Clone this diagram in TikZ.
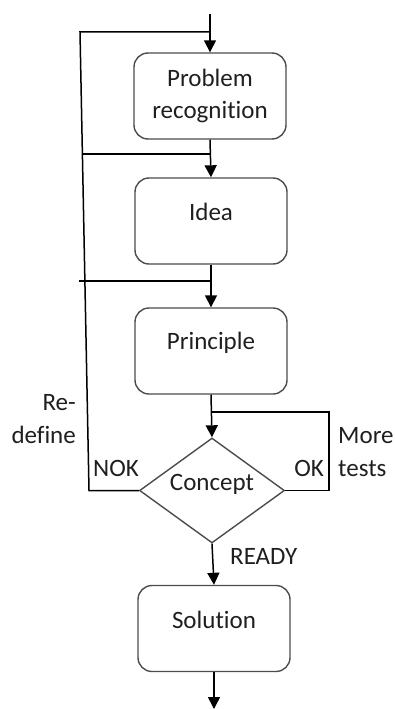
\documentclass[tikz,border=0pt]{standalone}
\usepackage{fontspec}
\setmainfont{Carlito}[Ligatures=NoCommon]
\usetikzlibrary{shapes.geometric,arrows.meta}
\begin{document}
\begin{tikzpicture}[x=1pt,y=-1pt,
  txt/.style={font=\fontsize{25}{32.5}\selectfont, text=black!88, inner sep=0pt},
  box/.style={txt, draw=black!70, line width=1.4pt, rounded corners=14pt,
    minimum width=152pt, minimum height=86pt, align=center},
  dec/.style={txt, draw=black!70, line width=1.4pt, diamond,
    minimum width=145pt, minimum height=105pt},
  ln/.style={line width=1.5pt, black},
  arr/.style={ln, -{Triangle[length=12pt,width=12pt]}}]
\useasboundingbox (0,0) rectangle (395,709);
% nodes
\node[box] (p) at (210,96) {Problem\\recognition};
\node[box] (i) at (211,221) {\raisebox{1pt}[0pt][0pt]{Idea}};
\node[box] (pr) at (211,351) {\raisebox{2pt}[0pt][0pt]{Principle}};
\node[dec] (c) at (212,490.5) {\raisebox{0.5pt}[0pt][0pt]{Concept}};
\node[box] (s) at (214,628.5) {\raisebox{0.5pt}[0pt][0pt]{Solution}};
% coordinates
\coordinate (top) at (210,14);
\coordinate (bot) at (214,709);
\coordinate (j1) at (210,32);
\coordinate (j2) at (210,154);
\coordinate (j3) at (211,281);
\coordinate (j4) at (211.5,412);
\coordinate (l0) at (80,32);
\coordinate (l1) at (89,490.5);
\coordinate (l2) at (82.4,154);
\coordinate (l3) at (79,281);
\coordinate (r1) at (329,490.5);
\coordinate (r0) at (329,412);
% main flow
\draw[arr] (top) -- (p.north);
\draw[arr] (p.south) -- (i.north);
\draw[arr] (i.south) -- (pr.north);
\draw[arr] (pr.south) -- (c.north);
\draw[arr] (c.south) -- (s.north);
\draw[arr] (s.south) -- (bot);
% feedback loops
\draw[ln] (c.west) -- (l1) -- (l0) -- (j1);
\draw[ln] (l2) -- (j2);
\draw[ln] (l3) -- (j3);
\draw[ln] (c.east) -- (r1) -- (r0) -- (j4);
% labels
\node[txt, anchor=east, align=right] (redef) at (76,419) {Re-\\define};
\node[txt, anchor=west] (nok) at (93,468) {NOK};
\node[txt, anchor=east] (ok) at (324,468) {OK};
\node[txt, anchor=west, align=left] (more) at (338,452) {More\\tests};
\node[txt, anchor=west] (ready) at (230,556) {READY};
\end{tikzpicture}
\end{document}
